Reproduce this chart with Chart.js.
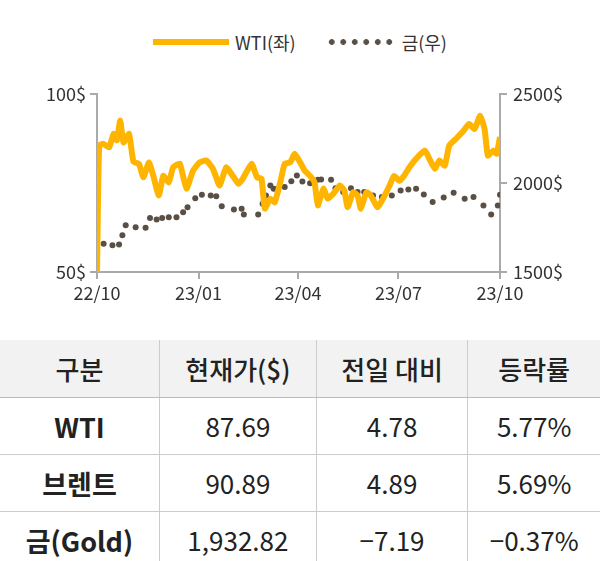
<!DOCTYPE html>
<html><head><meta charset="utf-8">
<script src="https://cdn.jsdelivr.net/npm/chart.js@4"></script>
<style>
body{margin:0;width:600px;height:561px;background:#fff;font-family:"Noto Sans CJK KR","Noto Sans",sans-serif;color:#222;overflow:hidden}
#legend{position:absolute;top:26px;left:0;width:600px;text-align:center;font-size:18px;color:#333}
#legend span{display:inline-block;vertical-align:middle}
.lw{width:76px;height:6px;background:#ffb400;margin-right:6px}
.lg{width:70px;height:6px;margin:0 6px 0 30px;background:radial-gradient(circle,#5a4f45 2.6px,transparent 3.1px) 0 0/11.5px 6px repeat-x}
#wrap{position:absolute;top:70px;left:0;width:600px;height:250px}
table{position:absolute;top:340px;left:0;width:600px;border-collapse:collapse;font-size:26px;text-align:center;line-height:1}
th{background:#f2f2f2;font-weight:500;height:57px;padding:0;border-bottom:1px solid #bbb}
td{height:56px;padding:0;border-bottom:1px solid #ccc}
tr:last-child td{border-bottom:none}
th+th,td+td{border-left:1px solid #ccc}
td:first-child{font-weight:700;font-size:27px}
</style></head><body>
<div id="legend"><span class="lw"></span><span>WTI(좌)</span><span class="lg"></span><span>금(우)</span></div>
<div id="wrap"><canvas id="c"></canvas></div>
<table>
<tr><th>구분</th><th>현재가($)</th><th>전일 대비</th><th>등락률</th></tr>
<tr><td>WTI</td><td>87.69</td><td>4.78</td><td>5.77%</td></tr>
<tr><td>브렌트</td><td>90.89</td><td>4.89</td><td>5.69%</td></tr>
<tr><td>금(Gold)</td><td>1,932.82</td><td>−7.19</td><td>−0.37%</td></tr>
</table>
<script>
// days since 2022-10-01
const wtiDay=[0,2,6,11,15,18,21,24,29,33,38,42,47,51,56,60,65,69,75,81,87,93,99,105,111,117,123,128,132,140,145,149,152,157,161,166,170,175,179,184,188,193,197,200,205,209,214,220,224,227,232,236,239,244,248,254,259,265,269,274,278,283,289,297,301,306,310,315,319,325,331,337,342,347,351,354,359,362,365];
const wtiVal=[50,85.5,86,85,88.8,87,92.5,86.4,88.8,81,80.4,76.6,80.8,77,71.5,77,75.2,79.4,80.4,73.4,78.5,80.8,81.3,79,74.3,79.4,77,74.8,76.2,80.4,76.6,76.2,67.8,70.6,69.6,75.2,80.4,80.8,83.2,80.8,78.5,77,75.2,68.7,73.4,70.6,72,74.3,72.9,68.2,72.4,71.5,67.8,72.4,71.5,68.2,70.6,74.3,77,75.6,77,79.4,81.8,84.1,81.8,79,81.3,79.9,85.5,87.4,89.3,91.6,90.2,93.9,90.2,82.7,84.1,83.2,87.9];
const goldDay=[0,6,14,20,23,26,35,44,48,54,59,65,72,78,82,89,95,103,108,113,124,131,133,146,150,153,157,160,164,170,176,181,186,193,200,203,212,216,223,230,236,242,250,258,267,275,282,289,296,304,314,323,333,341,350,357,363,365];
const goldVal=[1650,1659,1650,1655,1706,1762,1752,1749,1803,1795,1803,1808,1808,1836,1864,1915,1934,1930,1926,1870,1851,1855,1823,1823,1883,1930,1986,1967,1967,1977,2010,2042,2008,1999,2018,2020,2018,1971,1949,1971,1949,1949,1930,1921,1930,1958,1964,1967,1936,1893,1919,1945,1912,1921,1874,1823,1874,1934];
const tickDays=[0,92,182,273,365];
const tickLabels=["22/10","23/01","23/04","23/07","23/10"];

const axisCol="#aaa", txt="#333", font={size:18,family:"Noto Sans CJK KR"};
const wti=wtiDay.map((d,i)=>({x:d,y:wtiVal[i]}));
const gold=goldDay.map((d,i)=>({x:d,y:goldVal[i]}));
new Chart(document.getElementById("c"),{
  type:"line",
  data:{datasets:[
    {data:gold,yAxisID:"y2",showLine:false,pointRadius:3,pointBackgroundColor:"#5a4f45",pointBorderWidth:0,order:2},
    {data:wti,yAxisID:"y",borderColor:"#ffb400",borderWidth:6,pointRadius:0,tension:0.15,order:1}
  ]},
  options:{responsive:true,maintainAspectRatio:false,animation:false,
    layout:{padding:{top:24,bottom:0}},
    plugins:{legend:{display:false},tooltip:{enabled:false}},
    scales:{
      x:{type:"linear",min:0,max:365,
        afterBuildTicks:s=>{s.ticks=tickDays.map(v=>({value:v}));},
        afterFit:s=>{s.height=48;},
        grid:{drawOnChartArea:false,color:axisCol,lineWidth:2,tickLength:7},
        border:{color:axisCol,width:2},
        ticks:{color:txt,font,maxRotation:0,callback:v=>tickLabels[tickDays.indexOf(v)]}},
      y:{position:"left",min:50,max:100,
        afterBuildTicks:s=>{s.ticks=[{value:50},{value:100}];},
        afterFit:s=>{s.width=97;},
        grid:{drawOnChartArea:false,color:axisCol,lineWidth:2,tickLength:7},
        border:{color:axisCol,width:2},
        ticks:{color:txt,font,padding:4,callback:v=>v+"$"}},
      y2:{position:"right",min:1500,max:2500,
        afterBuildTicks:s=>{s.ticks=[{value:1500},{value:2000},{value:2500}];},
        afterFit:s=>{s.width=100;},
        grid:{drawOnChartArea:false,color:axisCol,lineWidth:2,tickLength:7},
        border:{color:axisCol,width:2},
        ticks:{color:txt,font,padding:6,callback:v=>v+"$"}}
    }}
});
</script>
</body></html>
